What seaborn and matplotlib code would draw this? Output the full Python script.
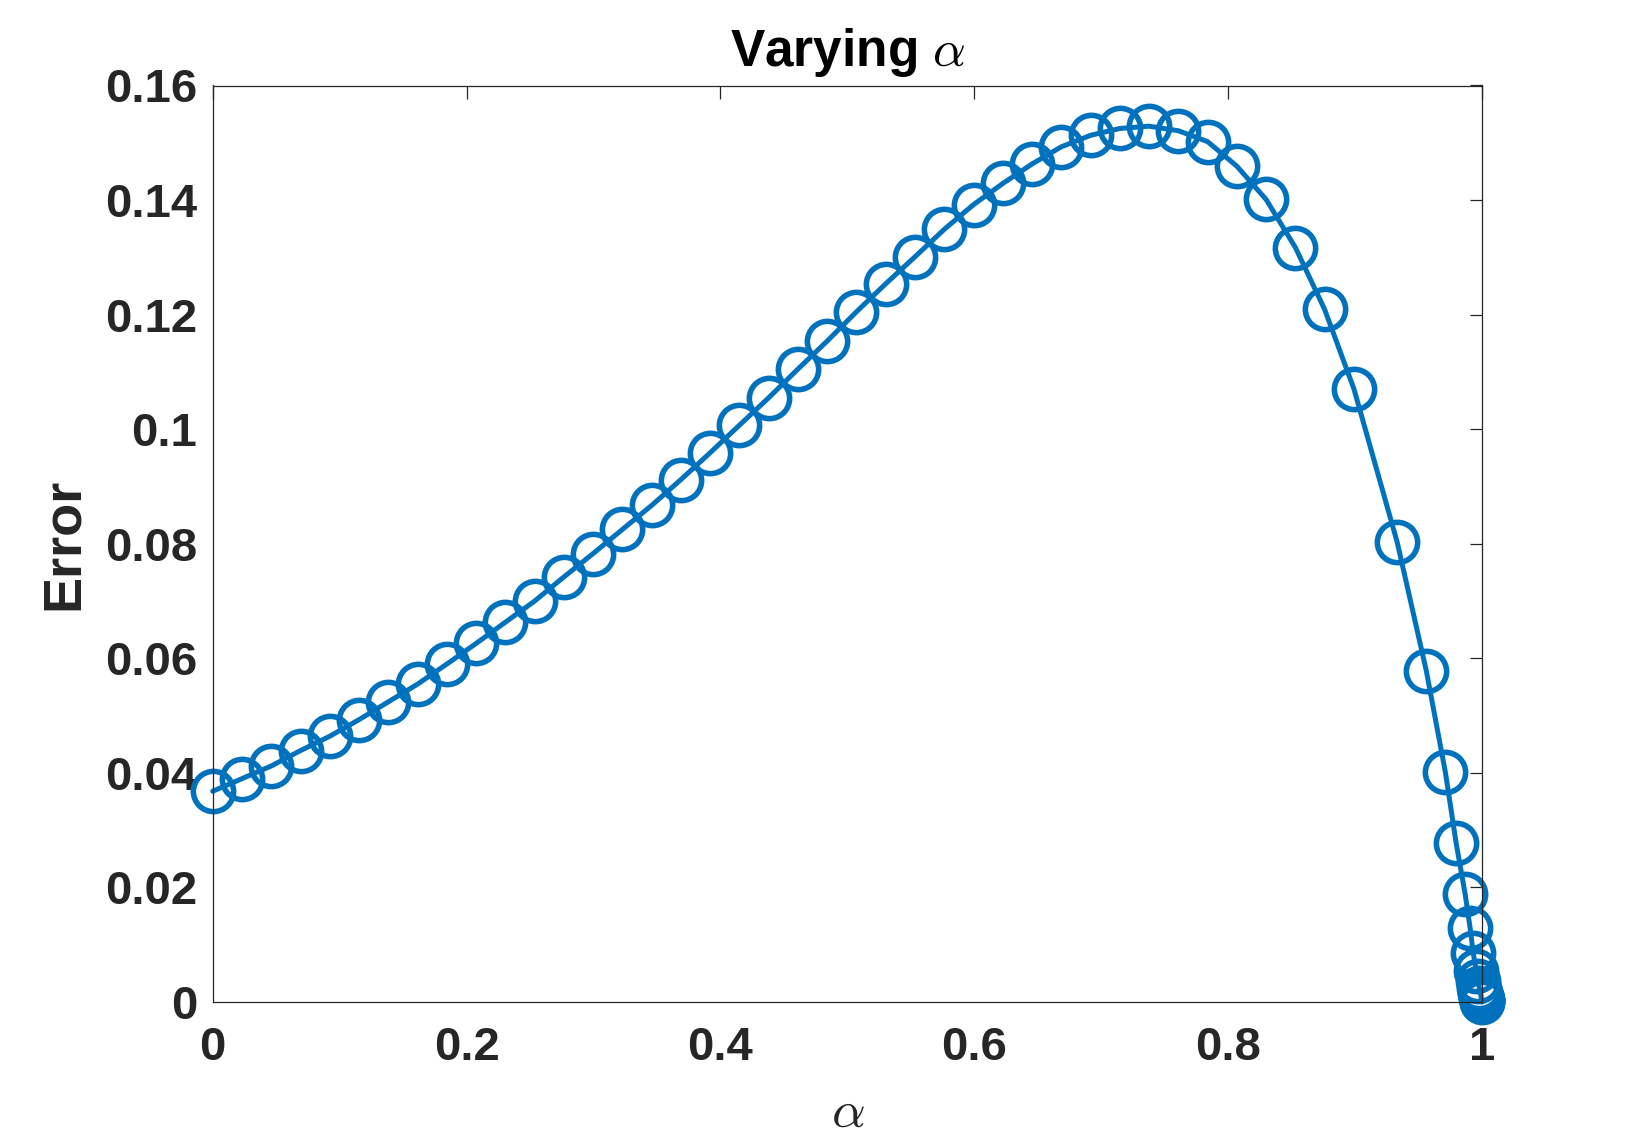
import numpy as np
import pandas as pd
import matplotlib
matplotlib.use('Agg')
import matplotlib.pyplot as plt
import seaborn as sns

# values (alpha vs error)
alpha = [0.0, 0.0231, 0.0461, 0.0692, 0.0922, 0.1153, 0.1383, 0.1614, 0.1844, 0.2075,
         0.2305, 0.2536, 0.2766, 0.2997, 0.3227, 0.3458, 0.3688, 0.3919, 0.4149, 0.4380,
         0.4610, 0.4841, 0.5071, 0.5302, 0.5532, 0.5763, 0.5993, 0.6224, 0.6454, 0.6685,
         0.6915, 0.7146, 0.7376, 0.7607, 0.7837, 0.8068, 0.8298, 0.8529, 0.8759, 0.8990,
         0.933, 0.956, 0.971, 0.9795, 0.9866, 0.9905, 0.9929, 0.9953, 0.9968, 0.9978,
         0.9985, 0.9990, 0.9993, 0.9995, 0.9997, 0.9998, 0.99987, 1.0]
error = [0.0368, 0.0390, 0.0412, 0.0439, 0.0464, 0.0493, 0.0524, 0.0555, 0.0590, 0.0626,
         0.0663, 0.0700, 0.0742, 0.0783, 0.0825, 0.0867, 0.0912, 0.0959, 0.1007, 0.1055,
         0.1105, 0.1154, 0.1205, 0.1254, 0.1301, 0.1349, 0.1392, 0.1429, 0.1463, 0.1493,
         0.1513, 0.1525, 0.1529, 0.1521, 0.1502, 0.1459, 0.1401, 0.1317, 0.1209, 0.1070,
         0.0803, 0.0578, 0.0401, 0.0277, 0.0188, 0.0129, 0.0086, 0.0055, 0.0036, 0.0024,
         0.0016, 0.0011, 0.0007, 0.0005, 0.0003, 0.0002, 0.0001, 0.0]

xticks = [0, 0.2, 0.4, 0.6, 0.8, 1]
xtick_labels = ['0', '0.2', '0.4', '0.6', '0.8', '1']
yticks = [0, 0.02, 0.04, 0.06, 0.08, 0.1, 0.12, 0.14, 0.16]
ytick_labels = ['0', '0.02', '0.04', '0.06', '0.08', '0.1', '0.12', '0.14', '0.16']

df = pd.DataFrame({'alpha': alpha, 'error': error})

sns.set_style("white")
plt.rcParams['font.family'] = ['Liberation Sans', 'DejaVu Sans']
plt.rcParams['mathtext.fontset'] = 'cm'

blue = '#0072BD'
grey = '#262626'

fig = plt.figure(figsize=(16.36, 11.4), dpi=100)
ax = fig.add_axes([0.130, 0.121, 0.776, 0.804])

sns.lineplot(data=df, x='alpha', y='error', ax=ax, sort=False, color=blue,
             linewidth=3.6, marker='o', markersize=29, markerfacecolor='none',
             markeredgecolor=blue, markeredgewidth=4.0)
for ln in ax.lines:
    ln.set_clip_on(False)

ax.set_xlim(0, 1)
ax.set_ylim(0, 0.16)
ax.set_xticks(xticks)
ax.set_xticklabels(xtick_labels)
ax.set_yticks(yticks)
ax.set_yticklabels(ytick_labels)

ax.tick_params(direction='in', length=9, width=0.9, color=grey,
               top=True, right=True, labelsize=34, labelcolor=grey)
ax.tick_params(axis='x', pad=17)
ax.tick_params(axis='y', pad=11)
for lab in ax.get_xticklabels() + ax.get_yticklabels():
    lab.set_fontweight('bold')
for sp in ax.spines.values():
    sp.set_visible(True)
    sp.set_color(grey)
    sp.set_linewidth(0.9)

ax.set_title(r'Varying $\alpha$', fontsize=37, fontweight='bold', color='black', pad=14)
ax.set_xlabel(r'$\alpha$', fontsize=38, color=grey, labelpad=13)
ax.set_ylabel('Error', fontsize=39, fontweight='bold', color=grey, labelpad=12)

fig.savefig('out.png', dpi=100, facecolor='white')
